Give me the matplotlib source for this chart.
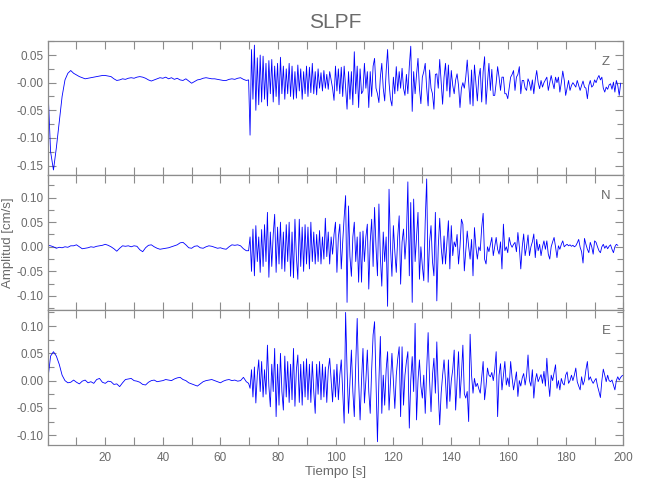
import numpy as np
import matplotlib
matplotlib.use("Agg")
import matplotlib.pyplot as plt
from matplotlib.ticker import MultipleLocator, FixedLocator

plt.rcParams['font.family'] = ['Liberation Sans', 'DejaVu Sans']
plt.rcParams['axes.unicode_minus'] = False

# sampling of the typed traces (seconds)
quiet_step = 1.0      # pre-event part, t = 0 .. 69 s
active_start = 69.8   # strong-motion part
active_step = 0.503

# --- Z component ---
z_quiet = [0.0, -0.125, -0.158, -0.118, -0.072, -0.025, 0.005, 0.017, 0.022, 0.017,
           0.014, 0.011, 0.009, 0.007, 0.008, 0.009, 0.010, 0.011, 0.012, 0.013,
           0.013, 0.012, 0.011, 0.007, 0.004, 0.005, 0.007, 0.006, 0.008, 0.009,
           0.008, 0.010, 0.011, 0.010, 0.008, 0.005, 0.003, 0.005, 0.007, 0.009,
           0.008, 0.010, 0.007, 0.009, 0.006, 0.008, 0.005, 0.004, 0.007, 0.003,
           -0.001, 0.002, 0.005, 0.006, 0.008, 0.009, 0.008, 0.007, 0.007, 0.006,
           0.005, 0.004, 0.004, 0.006, 0.007, 0.006, 0.008, 0.009, 0.006, 0.004]
z_active = [0.005, -0.095, 0.06, -0.03, 0.068, -0.05, 0.045, -0.04, 0.05, -0.035,
            0.048, -0.03, 0.035, -0.042, 0.04, -0.02, 0.042, -0.035, 0.03, -0.025,
            0.035, -0.04, 0.046, -0.02, 0.03, -0.03, 0.025, -0.02, 0.035, -0.025,
            0.03, -0.03, 0.02, -0.028, 0.032, -0.015, 0.025, -0.03, 0.02, -0.02,
            0.03, -0.025, 0.028, -0.018, 0.035, -0.02, 0.02, -0.022, 0.025, -0.01,
            0.018, -0.015, 0.022, -0.01, 0.015, -0.012, 0.02, 0.005, -0.01, -0.032,
            0.03, -0.015, 0.025, -0.02, 0.028, -0.025, 0.03, -0.01, -0.048, 0.02,
            -0.03, 0.02, -0.04, 0.056, -0.02, 0.03, -0.045, 0.025, -0.02, -0.015,
            0.035, -0.01, 0.02, -0.045, 0.02, -0.025, 0.03, 0.044, -0.01, -0.02,
            -0.036, 0.01, 0.035, -0.01, -0.033, 0.02, 0.06, 0.0, -0.03, -0.042,
            0.01, -0.02, 0.029, -0.015, 0.02, -0.01, 0.026, -0.01, -0.023, 0.015,
            -0.02, 0.03, 0.066, -0.052, 0.02, -0.02, 0.015, 0.044, -0.01, -0.038,
            0.01, 0.02, 0.035, -0.01, -0.042, 0.023, -0.01, -0.02, -0.048, 0.015,
            0.016, -0.01, 0.042, 0.0, -0.039, 0.01, 0.035, -0.015, 0.032, -0.026,
            0.022, -0.005, -0.02, 0.005, 0.016, -0.005, -0.045, -0.01, 0.0, -0.01,
            0.01, 0.041, 0.0, -0.039, 0.023, -0.042, 0.032, 0.0, -0.033, 0.01,
            0.026, -0.035, 0.02, 0.047, -0.039, 0.0, 0.035, -0.014, 0.024, -0.023,
            -0.023, 0.0, 0.029, 0.01, -0.014, 0.01, 0.01, -0.02, -0.02, -0.029,
            -0.01, 0.01, 0.015, 0.022, -0.014, 0.01, 0.015, 0.029, -0.02, 0.004,
            0.004, -0.01, -0.014, 0.007, 0.0, -0.014, 0.005, -0.02, 0.005, 0.022,
            0.0, -0.011, 0.004, -0.008, 0.0, 0.005, 0.01, -0.014, 0.0, 0.013,
            0.0, -0.011, 0.01, 0.0, 0.01, -0.017, 0.0, 0.021, 0.005, -0.023,
            -0.01, 0.004, -0.014, -0.005, 0.0, -0.004, -0.008, 0.004, -0.005, -0.014,
            -0.005, 0.003, -0.008, -0.01, -0.029, -0.005, 0.004, -0.008, -0.005, 0.005,
            0.0, 0.008, 0.013, 0.005, 0.01, -0.01, -0.017, -0.008, -0.012, -0.004,
            -0.002, -0.012, 0.001, -0.017, 0.004, -0.005, -0.023, -0.001]

# --- N component ---
n_quiet = [0.003, 0.002, 0.0, -0.003, -0.001, -0.002, 0.0, -0.001, 0.002, 0.002,
           0.004, 0.0, -0.004, -0.003, -0.002, 0.0, -0.001, 0.001, 0.002, 0.003,
           0.005, 0.003, 0.0, -0.004, -0.009, -0.003, 0.002, 0.001, 0.002, 0.0,
           0.002, 0.001, -0.006, -0.010, -0.002, 0.003, 0.004, 0.0, -0.003, -0.005,
           -0.004, -0.003, -0.002, 0.0, 0.002, 0.004, 0.008, 0.009, 0.004, -0.002,
           -0.003, 0.001, 0.002, -0.002, -0.003, 0.0, 0.002, 0.001, -0.001, -0.003,
           -0.002, -0.004, -0.005, 0.0, 0.004, 0.003, 0.004, 0.002, -0.004, -0.008]
n_active = [-0.008, 0.02, -0.05, 0.036, -0.059, 0.043, -0.03, 0.02, -0.052, 0.035,
            -0.04, 0.045, -0.03, 0.07, -0.062, 0.03, -0.04, 0.025, 0.066, -0.052,
            0.04, -0.035, 0.05, -0.045, 0.03, -0.05, 0.045, -0.03, 0.05, -0.06,
            0.03, -0.063, 0.056, -0.02, -0.066, 0.056, -0.04, 0.04, -0.05, 0.045,
            -0.035, 0.04, -0.045, 0.05, -0.03, 0.03, -0.035, 0.025, -0.03, 0.033,
            -0.035, 0.02, -0.025, 0.058, -0.02, 0.03, -0.035, 0.02, -0.015, 0.025,
            0.05, -0.052, 0.02, 0.046, -0.045, 0.01, 0.06, 0.104, -0.113, 0.083,
            -0.02, -0.06, 0.02, 0.05, -0.03, 0.02, -0.072, 0.03, -0.072, 0.032,
            -0.03, 0.02, 0.046, -0.086, 0.01, 0.056, -0.04, 0.08, 0.0, -0.059,
            0.087, -0.02, -0.08, 0.03, -0.03, 0.02, -0.121, 0.117, 0.0, -0.06,
            0.043, -0.01, -0.052, 0.02, 0.063, -0.076, 0.01, 0.036, -0.025, 0.02,
            0.132, -0.059, 0.09, -0.113, 0.097, -0.03, 0.02, 0.07, -0.066, 0.0,
            -0.039, -0.069, 0.053, 0.138, -0.072, 0.01, 0.043, -0.03, -0.059, 0.07,
            -0.11, 0.0, 0.058, 0.0, -0.035, 0.022, -0.035, 0.01, 0.053, -0.045,
            0.043, -0.018, 0.01, 0.0, 0.025, -0.035, 0.0, 0.056, 0.046, -0.049,
            -0.01, 0.032, 0.0, -0.025, 0.015, -0.059, 0.039, 0.0, -0.025, 0.0,
            -0.008, 0.039, 0.068, -0.025, -0.035, 0.0, -0.01, 0.005, 0.019, -0.018,
            0.0, 0.019, -0.005, -0.015, 0.01, -0.045, 0.046, -0.008, 0.0, -0.012,
            0.019, 0.005, -0.001, 0.005, 0.009, -0.01, 0.029, 0.0, -0.045, 0.0,
            0.026, -0.018, 0.0, 0.024, -0.018, 0.0, 0.01, 0.026, -0.022, 0.015,
            -0.008, 0.005, -0.018, 0.0, 0.012, -0.005, 0.012, -0.015, -0.025, 0.0,
            0.01, 0.019, 0.0, -0.022, 0.002, -0.005, 0.005, 0.012, 0.0, 0.003,
            0.005, 0.002, 0.004, 0.001, 0.003, 0.0, 0.002, 0.008, 0.015, -0.001,
            -0.01, -0.033, 0.017, 0.005, -0.005, -0.012, 0.009, 0.0, -0.015, 0.012,
            0.009, 0.0, -0.008, -0.012, 0.0, 0.005, -0.003, 0.002, -0.004, 0.001,
            0.004, -0.005, -0.012, 0.0, 0.005, 0.003]

# --- E component ---
e_quiet = [0.0, 0.045, 0.053, 0.045, 0.03, 0.01, 0.0, -0.004, -0.003, 0.001,
           -0.003, -0.006, -0.001, 0.001, -0.004, -0.002, -0.005, 0.002, 0.004, -0.003,
           -0.005, -0.001, -0.002, -0.007, -0.006, -0.011, -0.004, 0.002, 0.003, 0.004,
           0.0, -0.001, -0.003, -0.007, -0.008, -0.003, 0.0, 0.001, -0.002, -0.001,
           0.0, 0.002, 0.001, 0.0, 0.003, 0.005, 0.006, 0.002, 0.0, -0.004,
           -0.006, -0.008, -0.010, -0.006, -0.002, 0.0, 0.001, 0.002, 0.0, -0.002,
           -0.004, -0.001, 0.001, 0.002, 0.0, 0.001, -0.001, 0.0, 0.006, -0.002]
e_active = [-0.005, -0.014, 0.02, -0.03, 0.025, -0.041, 0.01, 0.038, -0.02, 0.035,
            -0.03, 0.02, -0.025, 0.065, -0.01, -0.048, 0.03, -0.02, 0.059, -0.066,
            0.03, -0.045, 0.05, -0.02, -0.054, 0.045, -0.03, 0.035, -0.04, 0.03,
            -0.035, 0.059, -0.047, 0.02, 0.047, -0.04, 0.03, -0.045, 0.035, -0.03,
            0.04, -0.035, 0.03, -0.04, 0.035, -0.02, -0.06, 0.03, -0.025, 0.035,
            -0.035, 0.03, -0.03, 0.025, -0.04, 0.02, 0.041, 0.0, -0.039, 0.02,
            -0.03, 0.03, -0.035, 0.01, 0.038, -0.02, -0.078, 0.125, 0.02, -0.06,
            0.0, 0.056, -0.02, -0.066, 0.03, 0.114, 0.0, -0.072, 0.0, 0.059,
            -0.041, 0.0, 0.056, -0.02, -0.06, 0.02, 0.084, 0.108, 0.0, -0.112,
            0.0, 0.081, -0.06, 0.01, -0.045, 0.02, 0.053, -0.054, 0.0, 0.05,
            0.0, -0.051, 0.01, 0.04, 0.062, -0.066, 0.062, -0.045, 0.01, 0.035,
            0.053, -0.087, 0.0, 0.044, -0.02, 0.105, -0.072, 0.0, 0.038, -0.01,
            -0.032, 0.01, -0.06, 0.02, 0.088, 0.0, -0.057, 0.01, 0.041, -0.023,
            0.071, -0.02, -0.081, -0.023, 0.01, 0.038, 0.0, -0.051, 0.038, -0.038,
            0.0, 0.02, 0.056, -0.054, 0.0, 0.053, -0.032, 0.01, 0.065, -0.024,
            -0.032, -0.02, -0.075, 0.085, 0.01, -0.023, 0.004, -0.011, -0.005, -0.015,
            -0.023, 0.005, 0.035, -0.035, -0.01, 0.023, 0.01, 0.007, 0.015, 0.0,
            0.02, 0.053, -0.066, 0.01, 0.031, -0.017, 0.01, 0.035, -0.008, 0.005,
            -0.011, 0.035, 0.005, -0.017, 0.0, 0.016, -0.029, 0.0, -0.01, 0.005,
            0.013, -0.008, 0.01, 0.047, 0.0, -0.01, 0.02, -0.032, 0.0, 0.013,
            -0.002, 0.005, 0.011, -0.005, 0.017, -0.01, 0.041, 0.0, -0.029, 0.01,
            0.0, 0.015, 0.029, -0.014, 0.0, -0.017, 0.004, -0.005, -0.008, 0.01,
            0.016, -0.005, 0.0, 0.01, 0.0, 0.01, 0.023, -0.002, -0.01, -0.017,
            0.007, -0.008, 0.0, 0.02, 0.035, 0.001, 0.007, 0.0, -0.005, 0.0,
            0.004, -0.01, -0.02, -0.031, 0.0, 0.021, 0.01, -0.002, 0.01, 0.0,
            -0.002, 0.001, -0.008, -0.017, 0.0, 0.007, 0.001, 0.006, 0.009, 0.01]

components = ['Z', 'N', 'E']
y_limits = [(-0.168, 0.076), (-0.129, 0.145), (-0.118, 0.129)]
y_ticks = [[0.05, 0.0, -0.05, -0.10, -0.15],
           [0.10, 0.05, 0.0, -0.05, -0.10],
           [0.10, 0.05, 0.0, -0.05, -0.10]]
y_tick_labels = [['0.05', '-0.00', '-0.05', '-0.10', '-0.15'],
                 ['0.10', '0.05', '0.00', '-0.05', '-0.10'],
                 ['0.10', '0.05', '0.00', '-0.05', '-0.10']]
x_ticks = [20, 40, 60, 80, 100, 120, 140, 160, 180, 200]

TEXT = '#6a6a6a'
FRAME = '#8c8c8c'


def draw_panel(ax, quiet, active, ylim, ticks, labels, name, bottom):
    """one seismogram trace with IDL-like framing"""
    t = np.concatenate([np.arange(len(quiet)) * quiet_step,
                        active_start + active_step * np.arange(len(active))])
    v = np.concatenate([quiet, active])
    ax.plot(t, v, color='blue', lw=0.6)

    ax.set_xlim(0, 200)
    ax.set_ylim(*ylim)
    ax.set_yticks(ticks, labels)
    ax.yaxis.set_minor_locator(MultipleLocator(0.025))
    ax.xaxis.set_major_locator(FixedLocator(x_ticks))
    ax.xaxis.set_minor_locator(MultipleLocator(10))
    ax.tick_params(which='both', direction='in', top=True, right=True,
                   color=FRAME, labelcolor=TEXT, labelsize=8.5, width=0.8)
    ax.tick_params(axis='x', which='both', length=6)
    ax.tick_params(axis='y', which='major', length=6, pad=3)
    ax.tick_params(axis='y', which='minor', length=4)
    ax.tick_params(axis='x', labelbottom=bottom, pad=5)
    for s in ax.spines.values():
        s.set_color(FRAME)
        s.set_linewidth(0.9)
    ax.text(0.97, 0.845, name, transform=ax.transAxes, ha='center', va='center',
            color=TEXT, fontsize=9.5)


fig, axes = plt.subplots(3, 1, figsize=(6.5, 5), dpi=100)
fig.subplots_adjust(left=0.0734, right=0.959, top=0.9186, bottom=0.11, hspace=0)

traces = [(z_quiet, z_active), (n_quiet, n_active), (e_quiet, e_active)]
for i, ax in enumerate(axes):
    draw_panel(ax, traces[i][0], traces[i][1], y_limits[i], y_ticks[i],
               y_tick_labels[i], components[i], i == 2)

fig.text(0.516, 0.954, 'SLPF', ha='center', va='center', color=TEXT, fontsize=15)
fig.text(0.516, 0.056, 'Tiempo [s]', ha='center', va='center', color=TEXT, fontsize=9.5)
fig.text(0.013, 0.515, 'Amplitud [cm/s]', ha='center', va='center', rotation=90,
         color=TEXT, fontsize=9.5)

fig.savefig('out.png', dpi=100)
